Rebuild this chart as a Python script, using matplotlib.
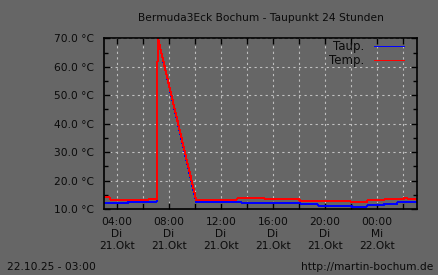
import matplotlib
matplotlib.use("Agg")
import matplotlib.pyplot as plt
from matplotlib.ticker import FixedLocator, MultipleLocator

# hours since 21.10. 00:00
temp_t = [3.0, 3.4, 3.5, 4.9, 5.0, 6.4, 6.5, 6.9, 7.05, 7.08, 7.10, 7.15,
          10.1, 11.9, 12.0, 13.2, 13.3, 15.3, 15.4, 18.0, 18.1, 21.9, 22.0,
          23.2, 23.3, 24.5, 24.6, 26.0, 26.1, 27.08]
temp_v = [14.1, 14.1, 13.3, 13.3, 13.3, 13.3, 13.6, 13.4, 13.4, 29.0, 57.8, 70.0,
          13.0, 13.0, 13.3, 13.3, 14.0, 14.0, 13.4, 13.4, 12.9, 12.9, 12.5,
          12.5, 13.1, 13.1, 13.4, 13.4, 13.8, 13.3]

dew_t = [3.0, 4.8, 4.9, 7.05, 7.08, 7.10, 7.15, 10.1, 13.5, 13.6, 17.3, 17.4,
         18.1, 18.2, 19.4, 19.5, 22.0, 22.1, 23.2, 23.3, 24.5, 24.6, 25.5, 25.6, 27.08]
dew_v = [12.0, 12.0, 12.6, 12.6, 29.0, 57.8, 70.0, 12.4, 12.4, 12.2, 12.2, 12.0,
         12.0, 11.7, 11.7, 11.2, 11.2, 10.8, 10.8, 11.4, 11.4, 11.8, 11.8, 12.3, 12.3]

x_ticks = [4, 6, 8, 10, 12, 14, 16, 18, 20, 22, 24, 26]
x_label_pos = [4, 8, 12, 16, 20, 24]
x_labels = ["04:00\nDi\n21.Okt", "08:00\nDi\n21.Okt", "12:00\nDi\n21.Okt",
            "16:00\nDi\n21.Okt", "20:00\nDi\n21.Okt", "00:00\nMi\n22.Okt"]
y_ticks = [10, 20, 30, 40, 50, 60, 70]

bg = "#666666"
txt = "#0a0a0a"

fig = plt.figure(figsize=(4.38, 2.75), dpi=100, facecolor=bg)
ax = fig.add_axes([104/438, 1 - 209/275, 313/438, (209 - 38.3)/275])
ax.set_facecolor(bg)

ax.plot(dew_t, dew_v, color="#0000ff", lw=0.72, label="Taup.", antialiased=False)
ax.plot(temp_t, temp_v, color="#ff0000", lw=0.72, label="Temp.", antialiased=False)

ax.set_xlim(3.0, 27.08)
ax.set_ylim(10, 70)

ax.xaxis.set_major_locator(FixedLocator(x_ticks))
ax.set_xticklabels([x_labels[x_label_pos.index(t)] if t in x_label_pos else "" for t in x_ticks])
ax.set_yticks(y_ticks)
ax.set_yticklabels([f"{v:.1f} °C" for v in y_ticks])
ax.yaxis.set_minor_locator(MultipleLocator(5))

ax.tick_params(which="both", direction="in", top=True, right=True, colors="black",
               labelcolor=txt, labelsize=7.7, width=1)
ax.tick_params(which="major", length=4)
ax.tick_params(which="minor", length=3)
ax.tick_params(axis="x", pad=6)
ax.tick_params(axis="y", pad=7)
for lab in ax.get_xticklabels():
    lab.set_linespacing(1.25)

ax.grid(True, which="major", color="#c0c0c0", ls=(0, (2, 3)), lw=0.8)
for s in ax.spines.values():
    s.set_color("black")
    s.set_linewidth(1.2)

leg = ax.legend(loc="upper right", bbox_to_anchor=(0.958, 0.99), frameon=False,
                markerfirst=False, fontsize=8.5, handlelength=2.5, borderpad=0,
                borderaxespad=0, labelspacing=0.12, handletextpad=0.85)
for t in leg.get_texts():
    t.set_color(txt)

fig.text(0.5 + 0.5 * (104 + 417 - 438) / 438, 1 - 18/275,
         "Bermuda3Eck Bochum - Taupunkt 24 Stunden",
         ha="center", va="center", fontsize=7.7, color=txt)
fig.text(7/438, 1 - 267/275, "22.10.25 - 03:00", ha="left", va="center",
         fontsize=7.7, color=txt)
fig.text(433/438, 1 - 267/275, "http://martin-bochum.de", ha="right", va="center",
         fontsize=7.7, color=txt)

fig.savefig("out.png", dpi=100, facecolor=bg)
